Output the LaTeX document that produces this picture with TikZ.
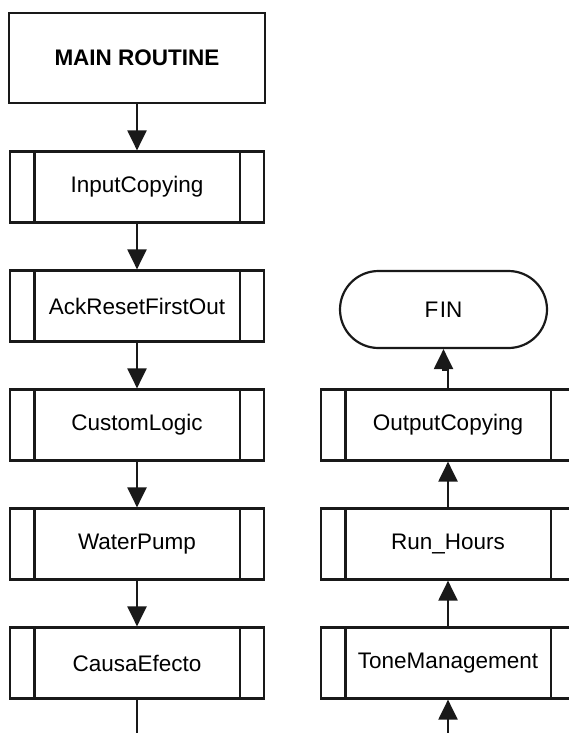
\documentclass[tikz,border=0pt]{standalone}
\usepackage{fontspec}
\setmainfont{Liberation Sans}
\usetikzlibrary{arrows.meta,shapes.misc}

\tikzset{
  flowline/.style={line width=2.2pt, draw=black!90},
  headbox/.style={flowline, rectangle, minimum width=256pt, minimum height=90pt,
    inner sep=0pt, font=\fontsize{22.5}{26}\selectfont\bfseries},
  subbox/.style={flowline, rectangle, minimum width=254pt, minimum height=71pt,
    inner sep=0pt, font=\fontsize{22.5}{26}\selectfont},
  endbox/.style={flowline, rounded rectangle, minimum width=207pt, minimum height=77pt,
    inner sep=0pt, font=\fontsize{22.5}{26}\selectfont},
  link/.style={flowline, -{Triangle[width=19pt,length=20pt]}},
  plainlink/.style={flowline}
}

\begin{document}
\begin{tikzpicture}[x=1pt, y=-1pt]
  \useasboundingbox (0,0) rectangle (568,733);

  % left column: main routine and its calls
  \node[headbox] (main) at (137,58) {MAIN ROUTINE};
  \node[subbox] (ic) at (137,187) {InputCopying};
  \node[subbox] (ack) at (137,306) {AckResetFirstOut};
  \node[subbox] (cl) at (137,425) {CustomLogic};
  \node[subbox] (wp) at (137,544) {WaterPump};
  \node[subbox] (ce) at (137,663) {CausaEfecto};
  \coordinate (leftout) at (137,745);

  % right column: remaining calls up to the end
  \node[endbox] (fin) at (443.5,309.5) {F\kern1.5pt IN};
  \node[subbox] (oc) at (448,425) {OutputCopying};
  \node[subbox] (rh) at (448,544) {Run\_Hours};
  \node[subbox] (tm) at (448,663) {ToneManagement};
  \coordinate (rightin) at (448,745);

  % side bars of the subroutine boxes
  \foreach \n in {ic,ack,cl,wp,ce,oc,rh,tm}{
    \draw[flowline] ([xshift=25.5pt]\n.north west) -- ([xshift=25.5pt]\n.south west);
    \draw[flowline] ([xshift=-25.5pt]\n.north east) -- ([xshift=-25.5pt]\n.south east);
  }

  % connectors
  \draw[link] (main) -- (ic);
  \draw[link] (ic) -- (ack);
  \draw[link] (ack) -- (cl);
  \draw[link] (cl) -- (wp);
  \draw[link] (wp) -- (ce);
  \draw[plainlink] (ce) -- (leftout);

  \draw[link] (rightin) -- (tm);
  \draw[link] (tm) -- (rh);
  \draw[link] (rh) -- (oc);
  \draw[link] (oc.north) -- ++(0,-19) -| (fin.south);
\end{tikzpicture}
\end{document}
